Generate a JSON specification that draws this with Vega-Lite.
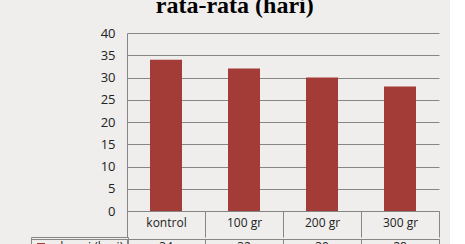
{
  "$schema": "https://vega.github.io/schema/vega-lite/v6.json",
  "background": "#efeeec",
  "padding": {"left": 30, "top": -6, "right": 10, "bottom": 0},
  "title": {"text": "rata-rata (hari)", "font": "Liberation Serif", "fontSize": 24, "fontWeight": "bold", "color": "#000000", "anchor": "middle", "offset": 9},
  "data": {"values": [
    {"perlakuan": "kontrol", "nilai": 34, "seri": "durasi (hari)"},
    {"perlakuan": "100 gr", "nilai": 32, "seri": "durasi (hari)"},
    {"perlakuan": "200 gr", "nilai": 30, "seri": "durasi (hari)"},
    {"perlakuan": "300 gr", "nilai": 28, "seri": "durasi (hari)"}
  ]},
  "config": {
    "font": "Open Sans",
    "view": {"stroke": null},
    "axis": {"labelColor": "#222222", "labelFontSize": 12, "domainColor": "#868686", "tickColor": "#868686", "gridColor": "#868686", "gridOpacity": 1}
  },
  "spacing": 0,
  "vconcat": [
    {
      "width": 312,
      "height": 178,
      "mark": {"type": "bar", "width": 32},
      "encoding": {
        "x": {"field": "perlakuan", "type": "nominal", "sort": null, "scale": {"paddingInner": 0, "paddingOuter": 0},
          "axis": {"title": null, "labelAngle": 0, "tickBand": "extent", "tickSize": 26, "labelPadding": -20, "domainColor": "#868686"}},
        "y": {"field": "nilai", "type": "quantitative", "scale": {"domain": [0, 40]},
          "axis": {"title": null, "values": [0, 5, 10, 15, 20, 25, 30, 35, 40], "ticks": false, "labelPadding": 12, "grid": true, "domain": true, "labelFontSize": 13}},
        "color": {"field": "seri", "type": "nominal", "scale": {"range": ["#a33b36"]},
          "legend": {"title": null, "orient": "none", "legendX": -96, "legendY": 204, "padding": 4, "strokeColor": "#868686", "symbolType": "square", "symbolSize": 64, "symbolStrokeWidth": 0, "labelFontSize": 12, "labelColor": "#222222", "labelOffset": 9}}
      }
    },
    {
      "width": 312,
      "height": 20,
      "view": {"stroke": "#868686"},
      "mark": {"type": "text", "fontSize": 12, "color": "#222222", "dy": -2},
      "encoding": {
        "x": {"field": "perlakuan", "type": "nominal", "sort": null, "scale": {"paddingInner": 0, "paddingOuter": 0},
          "axis": {"title": null, "labels": false, "ticks": false, "domain": false, "grid": true, "tickBand": "extent", "orient": "top"}},
        "y": {"field": "seri", "type": "nominal", "scale": {"paddingInner": 0, "paddingOuter": 0},
          "axis": {"title": null, "tickBand": "extent", "tickSize": 96, "labels": false, "domain": false}},
        "text": {"field": "nilai", "type": "quantitative"}
      }
    }
  ]
}
